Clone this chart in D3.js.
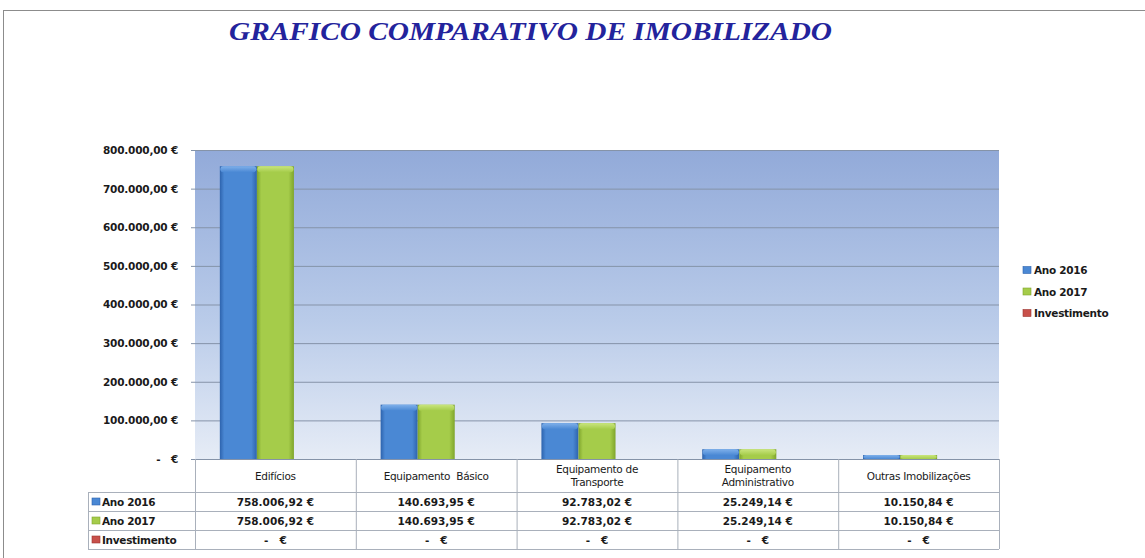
<!DOCTYPE html>
<html>
<head>
<meta charset="utf-8">
<script src="https://cdn.jsdelivr.net/npm/d3@7"></script>
<style>
  html, body { margin: 0; padding: 0; background: #fff; }
  svg { display: block; }
  text { white-space: pre; }
</style>
</head>
<body>
<svg id="chart" width="1145" height="558"></svg>
<script>
// ---- data ----
const categories = ["Edifícios", "Equipamento Básico", "Equipamento de Transporte", "Equipamento Administrativo", "Outras Imobilizações"];
const categoryLines = [["Edifícios"], ["Equipamento  Básico"], ["Equipamento de", "Transporte"], ["Equipamento", "Administrativo"], ["Outras Imobilizações"]];
const seriesNames = ["Ano 2016", "Ano 2017", "Investimento"];
const ano2016 = [758006.92, 140693.95, 92783.02, 25249.14, 10150.84];
const ano2017 = [758006.92, 140693.95, 92783.02, 25249.14, 10150.84];
const investimento = [0, 0, 0, 0, 0];
const yTicks = [0, 100000, 200000, 300000, 400000, 500000, 600000, 700000, 800000];
const titleText = "GRAFICO COMPARATIVO DE IMOBILIZADO";

const seriesValues = [ano2016, ano2017, investimento];
const colors = {
  "Ano 2016": { mid: "#4a88d4", dark: "#2d63ad", light: "#7fb0ea" },
  "Ano 2017": { mid: "#a5cc4a", dark: "#7fa52c", light: "#c9e57e" },
  "Investimento": { mid: "#c8504a", dark: "#9c3530", light: "#e08a84" }
};

const locale = d3.formatLocale({ decimal: ",", thousands: ".", grouping: [3], currency: ["", " €"] });
const fmtMoney = locale.format("$,.2f");
const money = v => v === 0 ? "-   €" : fmtMoney(v);

// ---- layout ----
const svg = d3.select("#chart");
const plot = { left: 195, right: 999, top: 150, bottom: 459 };
const table = { keyLeft: 88, headerBottom: 492, rowH: 19 };

const defs = svg.append("defs");
const bg = defs.append("linearGradient").attr("id", "bg").attr("x1", 0).attr("y1", 0).attr("x2", 0).attr("y2", 1);
bg.append("stop").attr("offset", "0%").attr("stop-color", "#92aad9");
bg.append("stop").attr("offset", "55%").attr("stop-color", "#b9cbe9");
bg.append("stop").attr("offset", "100%").attr("stop-color", "#e6ecf6");

seriesNames.forEach((s, i) => {
  const c = colors[s];
  const g = defs.append("linearGradient").attr("id", "bar" + i).attr("x1", 0).attr("y1", 0).attr("x2", 1).attr("y2", 0);
  g.append("stop").attr("offset", "0%").attr("stop-color", c.dark);
  g.append("stop").attr("offset", "12%").attr("stop-color", c.mid);
  g.append("stop").attr("offset", "85%").attr("stop-color", c.mid);
  g.append("stop").attr("offset", "100%").attr("stop-color", c.dark);
  const t = defs.append("linearGradient").attr("id", "cap" + i).attr("x1", 0).attr("y1", 0).attr("x2", 0).attr("y2", 1);
  t.append("stop").attr("offset", "0%").attr("stop-color", c.light);
  t.append("stop").attr("offset", "100%").attr("stop-color", c.mid);
});

// border
svg.append("line").attr("x1", 3).attr("x2", 1145).attr("y1", 10.5).attr("y2", 10.5).attr("stroke", "#8c8c8c");
svg.append("line").attr("x1", 3.5).attr("x2", 3.5).attr("y1", 10).attr("y2", 558).attr("stroke", "#8c8c8c");

// title
svg.append("text")
  .attr("x", 229).attr("y", 40)
  .attr("textLength", 603).attr("lengthAdjust", "spacingAndGlyphs")
  .attr("font-family", "Liberation Serif, serif")
  .attr("font-weight", "bold").attr("font-style", "italic")
  .attr("font-size", 25).attr("fill", "#23239c")
  .text(titleText);

// scales
const x0 = d3.scaleBand().domain(categories).range([plot.left, plot.right]).padding(0);
const x1 = d3.scaleBand().domain(seriesNames).range([0, x0.bandwidth()]).paddingInner(0).paddingOuter(0.67);
const y = d3.scaleLinear().domain([0, 800000]).range([plot.bottom, plot.top]);

// plot background
svg.append("rect").attr("x", plot.left).attr("y", plot.top)
  .attr("width", plot.right - plot.left).attr("height", plot.bottom - plot.top)
  .attr("fill", "url(#bg)");

// axis + gridlines
const axis = svg.append("g").attr("transform", `translate(${plot.right},0)`)
  .call(d3.axisLeft(y).tickValues(yTicks).tickSize(plot.right - plot.left + 4).tickPadding(13).tickFormat(money));
axis.select(".domain").remove();
axis.selectAll(".tick line").attr("stroke", "#8593a8").attr("stroke-width", 1);
axis.selectAll(".tick text")
  .attr("font-family", "DejaVu Sans, sans-serif").attr("font-weight", "bold")
  .attr("font-size", 10.5).attr("letter-spacing", -0.2).attr("fill", "#1a1a1a");

// bars
const groups = svg.append("g").selectAll("g").data(categories).join("g")
  .attr("transform", d => `translate(${x0(d)},0)`);
seriesNames.forEach((s, si) => {
  groups.each(function (cat, ci) {
    const v = seriesValues[si][ci];
    if (v <= 0) return;
    const g = d3.select(this);
    const bx = x1(s), bw = x1.bandwidth();
    const top = y(v), h = y(0) - y(v);
    g.append("rect").attr("x", bx).attr("y", top).attr("width", bw).attr("height", h)
      .attr("fill", `url(#bar${si})`);
    const capH = Math.min(6, h);
    g.append("rect").attr("x", bx + 0.5).attr("y", top).attr("width", bw - 1).attr("height", capH)
      .attr("rx", 3).attr("ry", 3).attr("fill", `url(#cap${si})`);
  });
});

// table
const tableG = svg.append("g");
const lineColor = "#a9b0bb";
const rowsY = [table.headerBottom, table.headerBottom + table.rowH, table.headerBottom + 2 * table.rowH, table.headerBottom + 3 * table.rowH];
rowsY.forEach(yy => tableG.append("line").attr("x1", table.keyLeft).attr("x2", plot.right)
  .attr("y1", yy + 0.5).attr("y2", yy + 0.5).attr("stroke", lineColor));
const colEdges = categories.map(c => x0(c)).concat([plot.right]);
colEdges.forEach(xx => tableG.append("line").attr("x1", xx + 0.5).attr("x2", xx + 0.5)
  .attr("y1", plot.bottom).attr("y2", rowsY[3]).attr("stroke", lineColor));
tableG.append("line").attr("x1", table.keyLeft + 0.5).attr("x2", table.keyLeft + 0.5)
  .attr("y1", rowsY[0]).attr("y2", rowsY[3]).attr("stroke", lineColor);

// header labels
categories.forEach((c, i) => {
  const lines = categoryLines[i];
  const cx = x0(c) + x0.bandwidth() / 2;
  const cy = (plot.bottom + table.headerBottom) / 2;
  lines.forEach((ln, li) => {
    tableG.append("text").attr("x", cx)
      .attr("y", cy + (li - (lines.length - 1) / 2) * 12.5 + 4)
      .attr("text-anchor", "middle")
      .attr("font-family", "DejaVu Sans, sans-serif").attr("font-size", 10.5)
      .attr("letter-spacing", -0.3).attr("fill", "#1a1a1a")
      .text(ln);
  });
});

// value rows + keys
seriesNames.forEach((s, si) => {
  const cy = rowsY[si] + table.rowH / 2;
  tableG.append("rect").attr("x", 92).attr("y", cy - 3.5).attr("width", 8).attr("height", 7)
    .attr("fill", colors[s].mid).attr("stroke", colors[s].dark).attr("stroke-width", 0.6);
  tableG.append("text").attr("x", 102).attr("y", cy + 4)
    .attr("font-family", "DejaVu Sans, sans-serif").attr("font-weight", "bold")
    .attr("font-size", 10.5).attr("letter-spacing", -0.3).attr("fill", "#1a1a1a").text(s);
  categories.forEach((c, ci) => {
    tableG.append("text").attr("x", x0(c) + x0.bandwidth() / 2).attr("y", cy + 4)
      .attr("text-anchor", "middle")
      .attr("font-family", "DejaVu Sans, sans-serif").attr("font-weight", "bold")
      .attr("font-size", 10.5).attr("fill", "#1a1a1a")
      .text(money(seriesValues[si][ci]));
  });
});

// legend (right)
const legend = svg.append("g").attr("transform", "translate(1023,270)");
seriesNames.forEach((s, i) => {
  const g = legend.append("g").attr("transform", `translate(0,${i * 21.5})`);
  g.append("rect").attr("x", 0).attr("y", -3.5).attr("width", 8).attr("height", 7)
    .attr("fill", colors[s].mid).attr("stroke", colors[s].dark).attr("stroke-width", 0.6);
  g.append("text").attr("x", 11).attr("y", 4)
    .attr("font-family", "DejaVu Sans, sans-serif").attr("font-weight", "bold")
    .attr("font-size", 10.5).attr("letter-spacing", -0.3).attr("fill", "#1a1a1a").text(s);
});
</script>
</body>
</html>
